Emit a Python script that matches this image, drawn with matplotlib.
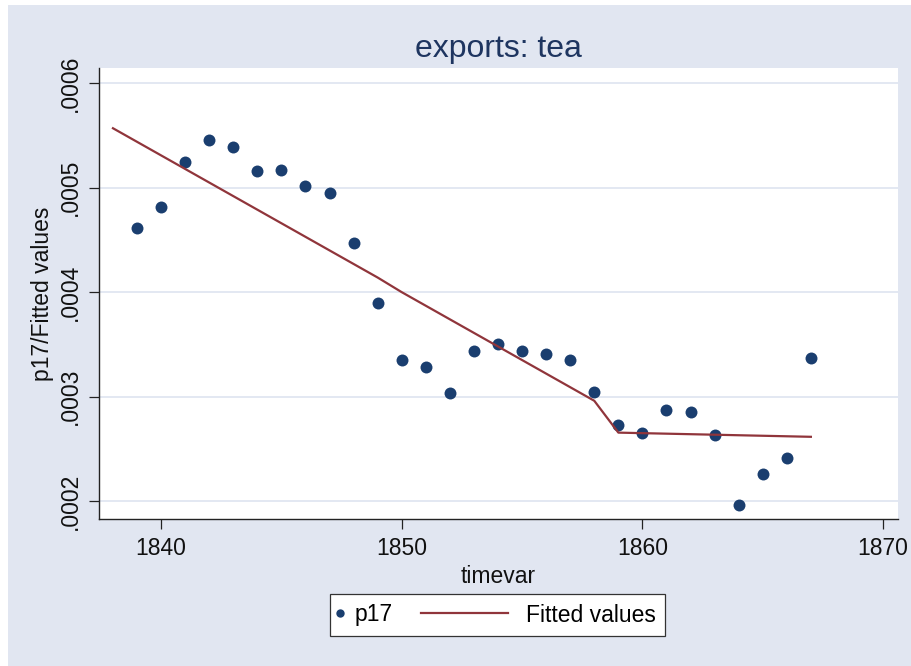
import matplotlib
matplotlib.use("Agg")
import matplotlib.pyplot as plt
from matplotlib.lines import Line2D
from matplotlib.legend_handler import HandlerLine2D
from matplotlib.patches import Rectangle

plt.rcParams["font.family"] = ["Liberation Sans", "DejaVu Sans"]

# p17 observations (1839-1867)
years = list(range(1839, 1868))
p17 = [0.000461, 0.000482, 0.000525, 0.000546, 0.000539, 0.000516, 0.000517,
       0.000502, 0.000495, 0.000447, 0.000390, 0.000335, 0.000328, 0.000303,
       0.000344, 0.000350, 0.000344, 0.000341, 0.000335, 0.000304, 0.000273,
       0.000265, 0.000287, 0.000285, 0.000263, 0.000196, 0.000226, 0.000241,
       0.000337]

# fitted values (1838-1867)
fit_years = list(range(1838, 1868))
fitted = [0.000557, 0.000544, 0.000531, 0.000518, 0.000505, 0.000492, 0.000479,
          0.000466, 0.000453, 0.000440, 0.000427, 0.000414, 0.000400, 0.000387,
          0.000374, 0.000361, 0.000348, 0.000335, 0.000322, 0.000309, 0.000296,
          0.0002655, 0.000265, 0.0002645, 0.000264, 0.0002635, 0.000263,
          0.0002625, 0.000262, 0.0002615]

xticks = [1840, 1850, 1860, 1870]
yticks = [0.0002, 0.0003, 0.0004, 0.0005, 0.0006]
ytick_labels = [".0002", ".0003", ".0004", ".0005", ".0006"]

BG = "#E1E6F1"
NAVY = "#1A3E6F"
MAROON = "#90353B"
FS = 16.5


class LongLineHandler(HandlerLine2D):
    # Stata-style legend key: line is much longer than the marker key
    def create_artists(self, legend, orig_handle, xdescent, ydescent,
                       width, height, fontsize, trans):
        y = (height - ydescent) / 2
        x0 = -xdescent
        line = Line2D([x0 - 64, x0 - 1.5], [y, y],
                      color=orig_handle.get_color(),
                      linewidth=orig_handle.get_linewidth())
        line.set_transform(trans)
        return [line]


class LeftMarkerHandler(HandlerLine2D):
    # marker key sits close to the left edge of the legend box
    def create_artists(self, legend, orig_handle, xdescent, ydescent,
                       width, height, fontsize, trans):
        y = (height - ydescent) / 2
        x = -xdescent + 0.5
        mk = Line2D([x], [y], linestyle="none", marker="o",
                    markersize=orig_handle.get_markersize() * 0.7,
                    markeredgewidth=0, color=orig_handle.get_color())
        mk.set_transform(trans)
        return [mk]


W, H = 912, 666
fig = plt.figure(figsize=(W / 100, H / 100), dpi=100, facecolor="white")
fig.patches.append(Rectangle((8 / W, 0), 1 - 8 / W, 1 - 5 / H,
                             transform=fig.transFigure, facecolor=BG,
                             edgecolor="none", zorder=-10))

left, right, top, bottom = 99, 898, 68.3, 519.3
ax = fig.add_axes([left / W, 1 - bottom / H, (right - left) / W, (bottom - top) / H])
ax.set_facecolor("white")

pts, = ax.plot(years, p17, "o", color=NAVY, markersize=8.6, markeredgewidth=0,
               label="p17", zorder=3)
fit_line, = ax.plot(fit_years, fitted, "-", color=MAROON, linewidth=1.6,
                    label="Fitted values", zorder=4)

ax.set_xlim(1837.42, 1870.62)
ax.set_ylim(0.0001825, 0.0006144)
ax.set_xticks(xticks)
ax.set_yticks(yticks)
ax.set_yticklabels(ytick_labels, rotation=90, va="center")
ax.yaxis.grid(True, color=BG, linewidth=1.3)
ax.set_axisbelow(True)

for s in ["top", "right"]:
    ax.spines[s].set_visible(False)
for s in ["left", "bottom"]:
    ax.spines[s].set_color("#222222")
    ax.spines[s].set_linewidth(1.0)

ax.tick_params(axis="both", direction="out", length=7, width=0.9,
               color="#222222", labelsize=FS, labelcolor="#111111")
ax.tick_params(axis="x", pad=6)
ax.tick_params(axis="y", pad=5)

ax.set_xlabel("timevar", fontsize=FS, color="#111111", labelpad=3)
ax.set_ylabel("p17/Fitted values", fontsize=FS, color="#111111", labelpad=4)

fig.text((left + right) / 2 / W, 1 - 57.3 / H, "exports: tea", ha="center",
         va="baseline", fontsize=23, color="#1E3560")

leg = fig.legend(handles=[pts, fit_line], loc="center",
                 bbox_to_anchor=(497.5 / W, 1 - 615 / H),
                 ncol=2, fontsize=FS, frameon=True, fancybox=False,
                 edgecolor="#333333", facecolor="white", framealpha=1,
                 handlelength=0.4, handletextpad=0.3,
                 columnspacing=5.1, borderpad=0.4,
                 handler_map={fit_line: LongLineHandler(),
                              pts: LeftMarkerHandler()})
leg.get_frame().set_linewidth(0.9)

fig.savefig("out.png", dpi=100, facecolor="white")
